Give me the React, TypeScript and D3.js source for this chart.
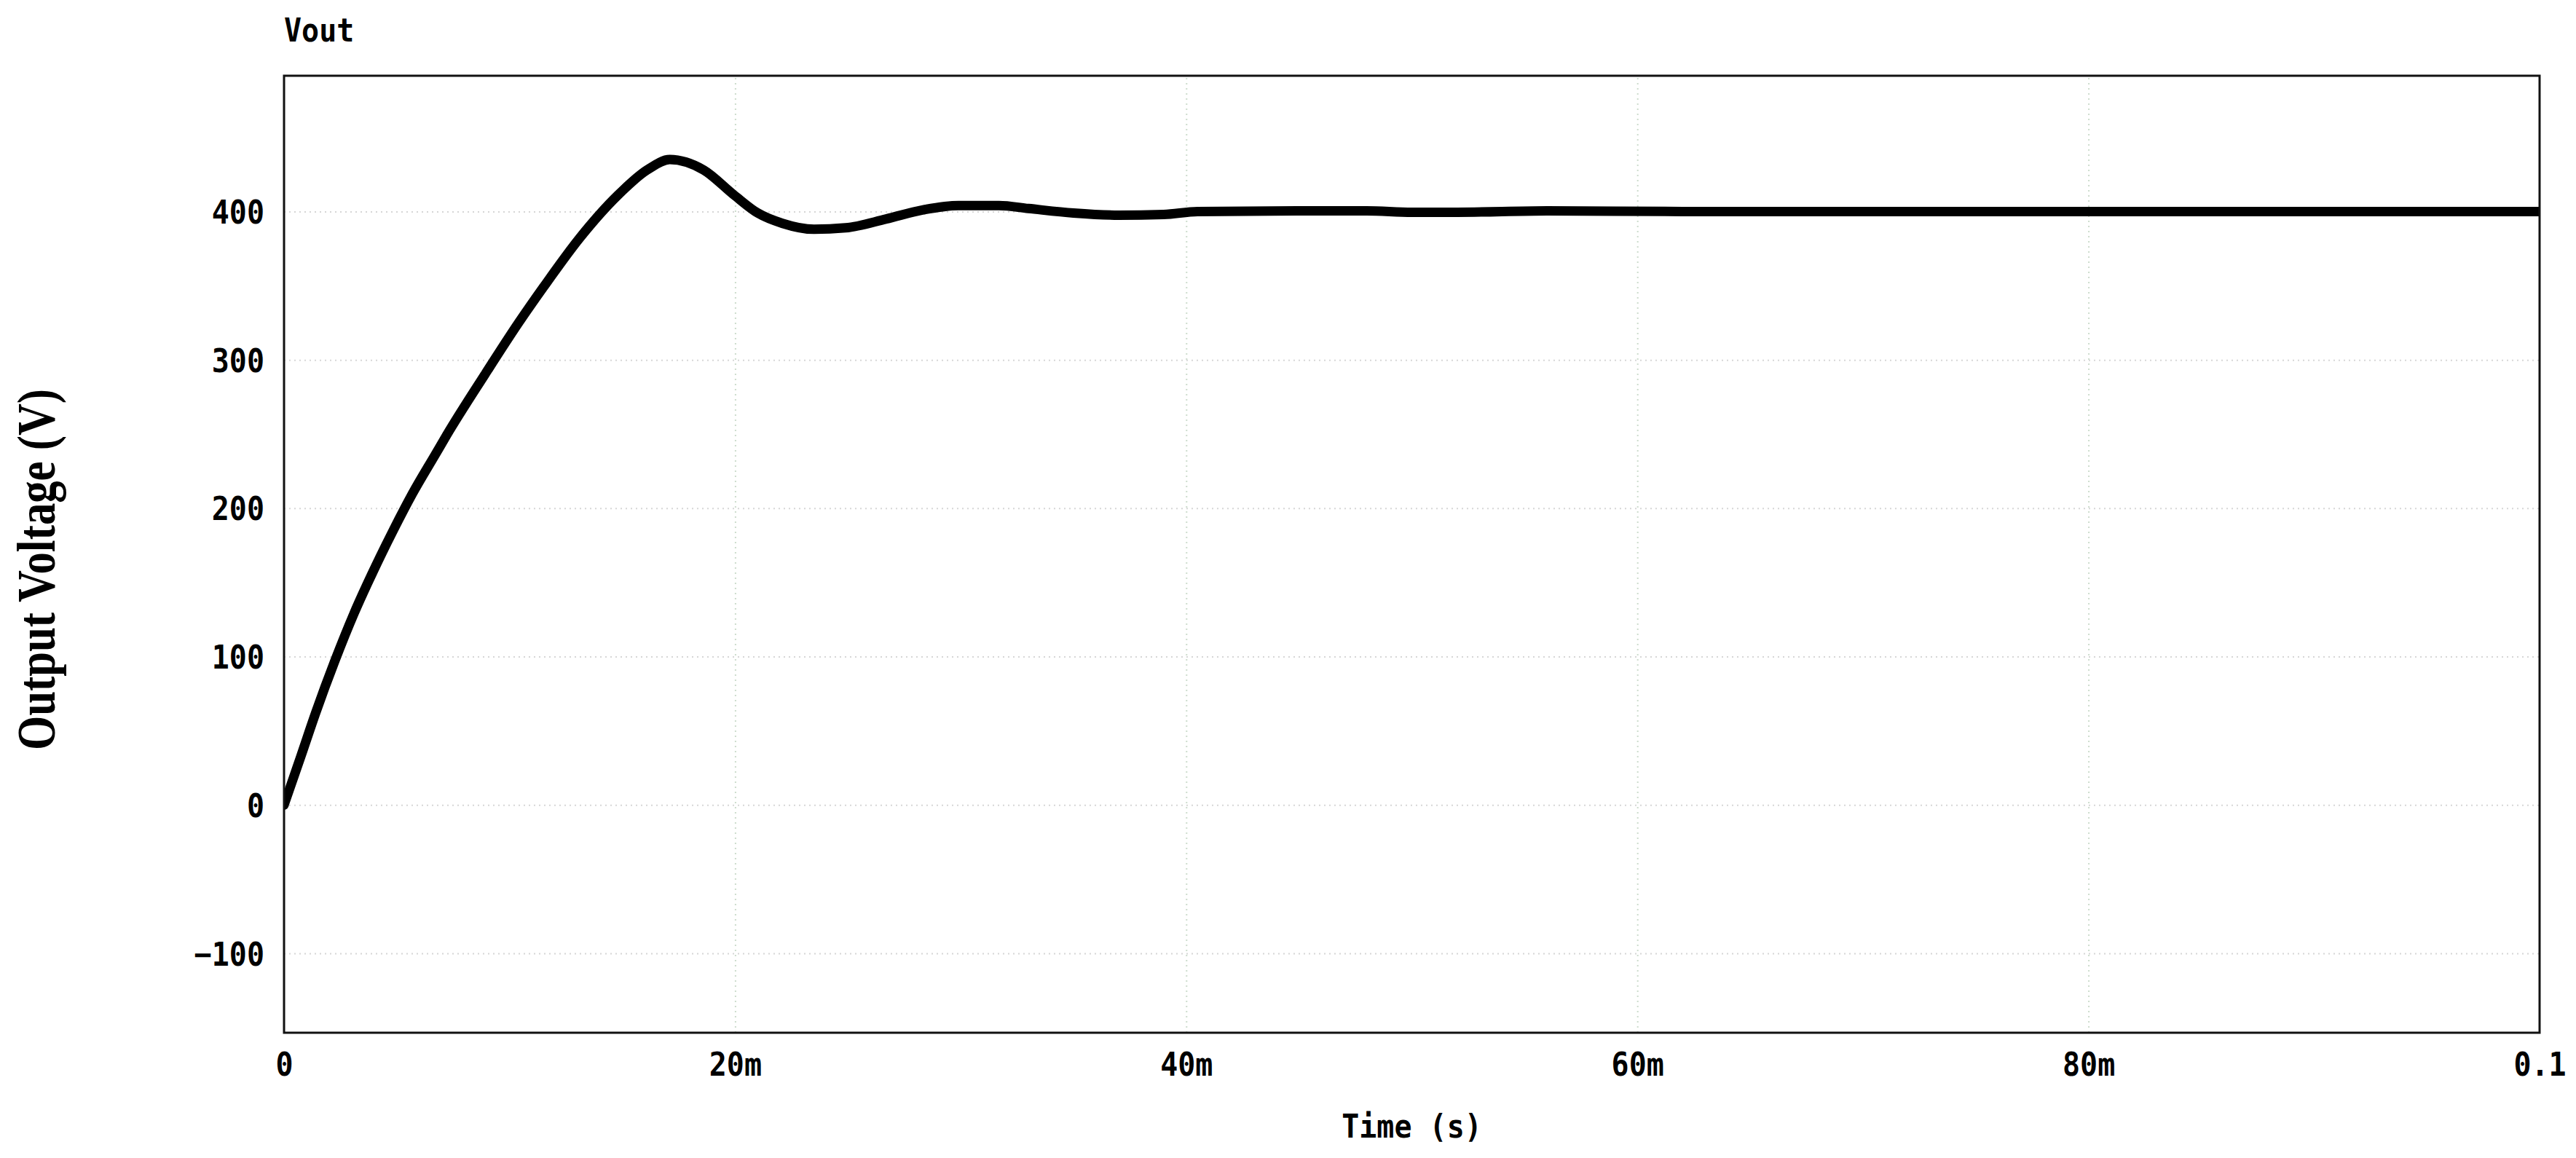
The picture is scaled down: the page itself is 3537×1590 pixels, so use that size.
import React, { useEffect, useRef } from "react";
import * as d3 from "d3";

const W = 3537;
const H = 1590;
const margin = { top: 104, right: 50, bottom: 172, left: 390 };

// simulated output voltage, time in ms and volts
const timeMs = [
  0, 0.75, 1.4, 2.25, 3.1, 4.0, 4.84, 5.7, 6.7, 7.2, 8.9, 10.4, 11.5, 13.1,
  14.8, 16.1, 17.1, 18.6, 19.96, 21, 22.1, 23.5, 24.9, 26.7, 28.3, 29.9, 31.7,
  33, 35, 37, 39, 40.5, 45, 48, 50, 52, 56, 62, 70, 80, 90, 100,
];
const voutV = [
  0, 33, 62, 97, 129, 159, 185, 210, 236, 249, 290, 325, 349, 382,
  411, 428, 435, 428, 411, 399, 392, 388, 389, 395, 401, 404, 404,
  402, 399, 397.5, 398, 400, 400.5, 400.5, 399.5, 399.5, 400.5, 400, 400, 400, 400, 400,
];

const xTicks = [0, 0.02, 0.04, 0.06, 0.08, 0.1];
const xTickLabels = ["0", "20m", "40m", "60m", "80m", "0.1"];
const yTicks = [-100, 0, 100, 200, 300, 400];
const yDomain = [-153.5, 491.5];

const mono = "'DejaVu Sans Mono', monospace";
const stretch = "scale(1,1.12)";

export default function App() {
  const ref = useRef<SVGSVGElement>(null);

  useEffect(() => {
    const svg = d3.select(ref.current);
    svg.selectAll("*").remove();

    const width = W - margin.left - margin.right;
    const height = H - margin.top - margin.bottom;

    const x = d3.scaleLinear().domain([0, 0.1]).range([margin.left, margin.left + width]);
    const y = d3.scaleLinear().domain(yDomain).range([margin.top + height, margin.top]);

    svg.append("rect").attr("width", W).attr("height", H).attr("fill", "#fff");

    // grid
    svg.append("g")
      .attr("transform", `translate(0,${margin.top + height})`)
      .call(d3.axisBottom(x).tickValues(xTicks.slice(1, -1)).tickSize(-height).tickFormat(() => ""))
      .call(g => g.select(".domain").remove())
      .call(g => g.selectAll("line").attr("stroke", "#cddccd").attr("stroke-width", 2).attr("stroke-dasharray", "2 5"));

    svg.append("g")
      .attr("transform", `translate(${margin.left},0)`)
      .call(d3.axisLeft(y).tickValues(yTicks).tickSize(-width).tickFormat(() => ""))
      .call(g => g.select(".domain").remove())
      .call(g => g.selectAll("line").attr("stroke", "#d6d6d6").attr("stroke-width", 2).attr("stroke-dasharray", "2 5"));

    // the waveform
    const pts = timeMs.map((t, i) => [t / 1000, voutV[i]] as [number, number]);
    const line = d3.line<[number, number]>()
      .x(d => x(d[0]))
      .y(d => y(d[1]))
      .curve(d3.curveMonotoneX);

    svg.append("clipPath").attr("id", "plot-clip")
      .append("rect")
      .attr("x", margin.left).attr("y", margin.top)
      .attr("width", width).attr("height", height);

    svg.append("path")
      .datum(pts)
      .attr("d", line)
      .attr("fill", "none")
      .attr("stroke", "#000")
      .attr("stroke-width", 13)
      .attr("stroke-linejoin", "round")
      .attr("stroke-linecap", "round")
      .attr("clip-path", "url(#plot-clip)");

    // frame
    svg.append("rect")
      .attr("x", margin.left).attr("y", margin.top)
      .attr("width", width).attr("height", height)
      .attr("fill", "none").attr("stroke", "#111").attr("stroke-width", 3);

    // axes labels
    svg.append("g")
      .attr("transform", `translate(0,${margin.top + height})`)
      .call(d3.axisBottom(x).tickValues(xTicks).tickSize(0).tickFormat((_, i) => xTickLabels[i]))
      .call(g => g.select(".domain").remove())
      .call(g => g.selectAll("text")
        .attr("y", 0).attr("dy", null)
        .attr("transform", `translate(0,59) ${stretch}`)
        .attr("font-family", mono).attr("font-weight", "bold").attr("font-size", 40)
        .attr("fill", "#000").attr("text-anchor", "middle"));

    svg.append("g")
      .attr("transform", `translate(${margin.left},0)`)
      .call(d3.axisLeft(y).tickValues(yTicks).tickSize(0).tickFormat(d3.format("d")))
      .call(g => g.select(".domain").remove())
      .call(g => g.selectAll("text")
        .attr("x", 0).attr("dy", null)
        .attr("transform", `translate(-27,16) ${stretch}`)
        .attr("font-family", mono).attr("font-weight", "bold").attr("font-size", 40)
        .attr("fill", "#000").attr("text-anchor", "end"));

    // titles
    svg.append("text")
      .attr("transform", `translate(${margin.left},57) ${stretch}`)
      .attr("font-family", mono).attr("font-weight", "bold").attr("font-size", 40)
      .text("Vout");

    svg.append("text")
      .attr("transform", `translate(${margin.left + width / 2},1562) ${stretch}`)
      .attr("text-anchor", "middle")
      .attr("font-family", mono).attr("font-weight", "bold").attr("font-size", 40)
      .text("Time (s)");

    svg.append("text")
      .attr("transform", "translate(75,1030) rotate(-90) scale(0.81,1)")
      .attr("text-anchor", "start")
      .attr("font-family", "'Liberation Serif', serif").attr("font-weight", "bold").attr("font-size", 75)
      .text("Output Voltage (V)");
  }, []);

  return (
    <div style={{ position: "absolute", left: 0, top: 0 }}>
      <svg ref={ref} width={W} height={H} />
    </div>
  );
}
